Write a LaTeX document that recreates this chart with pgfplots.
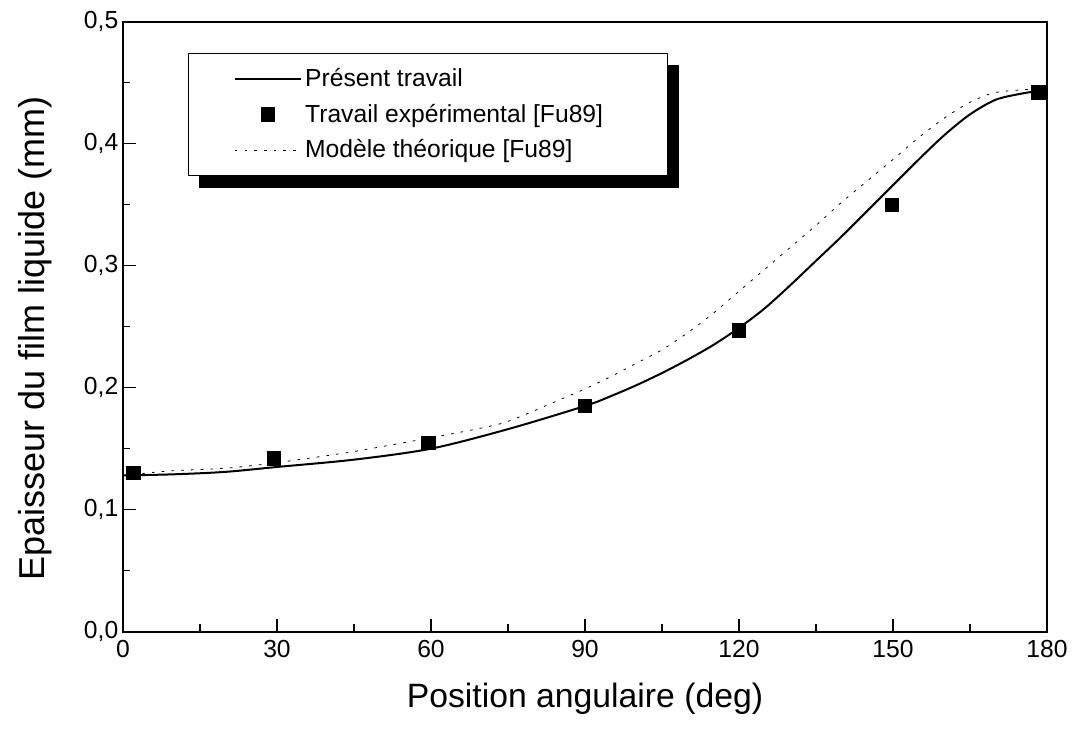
\documentclass[border=0pt]{standalone}
\usepackage{pgfplots}
\pgfplotsset{compat=1.18}
\usepackage{fontspec}
\setmainfont{Liberation Sans}
\pgfplotsset{
  lineleg/.style={legend image code/.code={\draw[##1] (0pt,0pt) -- (50pt,0pt);}},
  markleg/.style={legend image code/.code={\draw[##1] plot coordinates {(25pt,0pt)};}},
}
\begin{document}
\begin{tikzpicture}
\begin{axis}[
  scale only axis,
  width=693pt, height=457.5pt,
  xmin=0, xmax=180, ymin=0, ymax=0.5,
  xtick={0,30,...,180}, minor xtick={15,45,...,165},
  ytick={0,0.1,...,0.5}, minor ytick={0.05,0.15,...,0.45},
  tick pos=left, tick align=inside,
  major tick length=9.5pt, minor tick length=5.5pt,
  every tick/.style={black, line width=1.2pt},
  axis line style={line width=1.3pt},
  /pgf/number format/assume math mode=true,
  tick label style={font=\fontsize{18.5}{22}\selectfont},
  xticklabel={\pgfmathprintnumber[fixed]{\tick}},
  yticklabel={\pgfmathprintnumber[use comma,fixed,fixed zerofill,precision=1]{\tick}},
  xticklabel style={yshift=-3pt},
  xlabel={Position angulaire (deg)},
  ylabel={Epaisseur du film liquide (mm)},
  xlabel style={font=\fontsize{25.3}{30}\selectfont, at={(axis description cs:0.5,-0.11)}, anchor=center},
  ylabel style={font=\fontsize{27}{32}\selectfont, at={(axis description cs:-0.0952,0.48)}, anchor=center},
  legend cell align=left,
  legend style={at={(axis description cs:0.0703,0.9487)}, anchor=north west,
    name=leg, draw=black, line width=0.8pt, fill=white,
    font=\fontsize{18.5}{22}\selectfont,
    inner xsep=34pt, inner ysep=9.5pt, row sep=7.5pt},
]
\addplot[black, line width=1.5pt, smooth, tension=0.5, lineleg] coordinates {
(0,0.128) (10,0.129) (20,0.131) (30,0.135) (45,0.141) (60,0.150) (75,0.166)
(90,0.185) (95,0.193) (100,0.202) (105,0.212) (110,0.223) (115,0.235) (120,0.249)
(125,0.265) (130,0.284) (135,0.304) (140,0.324)
(145,0.345) (150,0.366) (155,0.387) (160,0.407) (165,0.424) (170,0.436) (175,0.441) (178,0.443)};
\addlegendentry{Présent travail}
\addplot[only marks, mark=square*, mark size=5pt, black, markleg] coordinates {
(2,0.130) (29.4,0.142) (59.5,0.155) (90,0.185) (119.9,0.247) (149.8,0.350) (178.3,0.442)};
\addlegendentry{Travail expérimental [Fu89]\hspace*{12pt}}
\addplot[black, line width=0.6pt, dash pattern=on 2pt off 5.3pt, smooth, tension=0.4, lineleg] coordinates {
(0,0.128) (9,0.1317) (20,0.134) (29,0.138) (44,0.147) (60,0.159) (74,0.171)
(85,0.190) (90,0.199) (95,0.209) (100,0.220) (105,0.231) (110,0.245) (115,0.261)
(120,0.279) (125,0.297) (130,0.315) (135,0.333) (140,0.352)
(146,0.373) (150,0.387) (155,0.405) (160,0.421) (165,0.434) (170,0.442) (178,0.445)};
\addlegendentry{Modèle théorique [Fu89]}
\end{axis}
\fill[black] ([xshift=8.5pt]leg.south west) rectangle ([xshift=8.5pt,yshift=-9pt]leg.south east);
\fill[black] ([yshift=-9pt]leg.north east) rectangle ([xshift=8.5pt]leg.south east);
\pgfresetboundingbox
\path (current axis.south west) ++(-92.25pt,-73pt) rectangle ++(807pt,546.75pt);
\end{tikzpicture}
\end{document}
